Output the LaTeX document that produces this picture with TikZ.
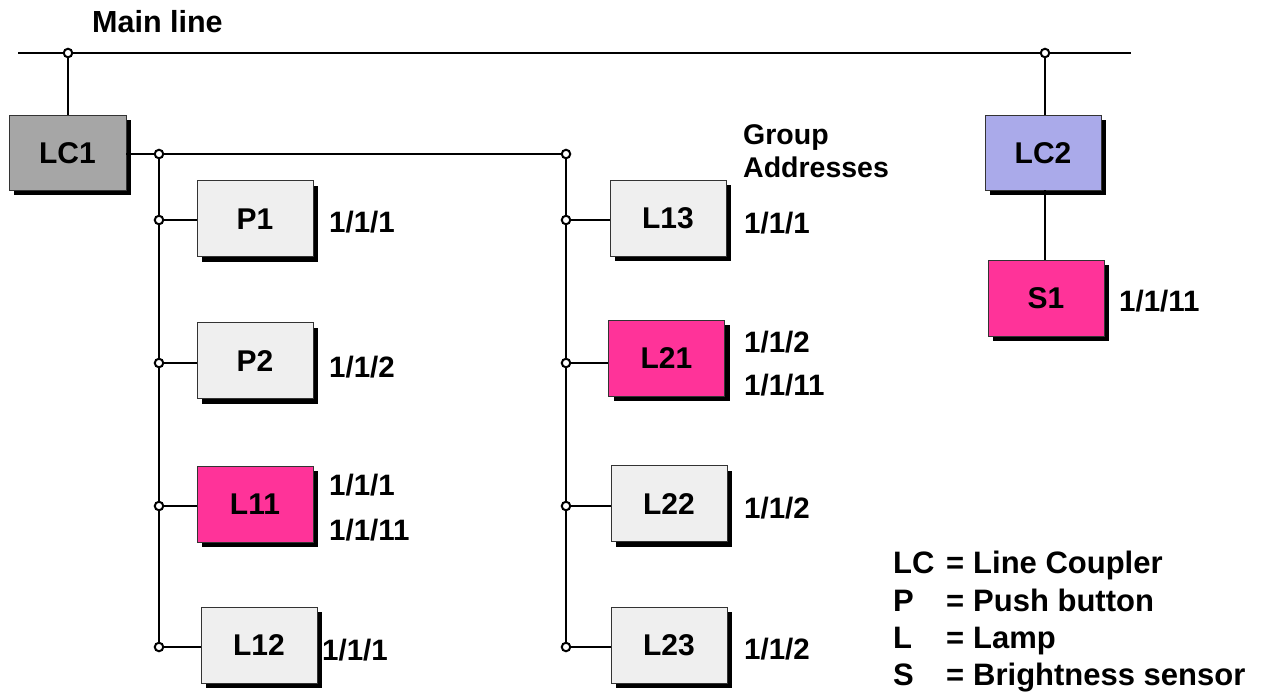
\documentclass[tikz,border=0pt]{standalone}
\usepackage{fontspec}
\setmainfont{Liberation Sans}
\usetikzlibrary{shadows}
\definecolor{lcgray}{HTML}{A6A6A6}
\definecolor{boxlight}{HTML}{EFEFEF}
\definecolor{pinkbox}{HTML}{FF3399}
\definecolor{lavbox}{HTML}{AAAAEA}
\definecolor{edgegray}{HTML}{333333}
\tikzset{
  dev/.style={draw=edgegray, line width=0.9pt, minimum width=116pt, minimum height=76pt,
    inner sep=0pt, text height=21pt, text depth=0pt,
    font=\fontsize{30}{36}\selectfont\bfseries,
    drop shadow={shadow xshift=5pt, shadow yshift=-5pt, opacity=1, fill=black}},
  wire/.style={line width=2.6pt, black},
  junc/.style={circle, draw=black, fill=white, line width=2pt, minimum size=8.5pt, inner sep=0pt},
  lbl/.style={anchor=base west, inner sep=0pt, font=\fontsize{29.5}{35}\selectfont\bfseries},
  hdr/.style={anchor=base west, inner sep=0pt, font=\fontsize{28.5}{34}\selectfont\bfseries},
  leg/.style={anchor=base west, inner sep=0pt, font=\fontsize{31}{37}\selectfont\bfseries}
}
\begin{document}
\begin{tikzpicture}[x=1pt,y=-1pt]
\useasboundingbox (0,0) rectangle (1264,691);
% main line
\coordinate (mlL) at (18,53);
\coordinate (mlR) at (1131,53);
\draw[wire] (mlL) -- (mlR);
\node[lbl, font=\fontsize{30.5}{36}\selectfont\bfseries] (mainlbl) at (92,32) {Main line};
% boxes
\node[dev, fill=lcgray, minimum width=117pt, minimum height=75pt] (LC1) at (67.5,152.5) {LC1};
\node[dev, fill=boxlight] (P1) at (255,218.5) {P1};
\node[dev, fill=boxlight] (P2) at (255,360.5) {P2};
\node[dev, fill=pinkbox] (L11) at (255,504) {L11};
\node[dev, fill=boxlight] (L12) at (259,645) {L12};
\node[dev, fill=boxlight] (L13) at (668,218) {L13};
\node[dev, fill=pinkbox] (L21) at (666.5,358) {L21};
\node[dev, fill=boxlight] (L22) at (669,503.5) {L22};
\node[dev, fill=boxlight] (L23) at (669,645) {L23};
\node[dev, fill=lavbox, minimum height=75pt] (LC2) at (1043,152.5) {LC2};
\node[dev, fill=pinkbox] (S1) at (1046,298) {S1};
% junction coordinates
\coordinate (jm1) at (68,53);
\coordinate (jm2) at (1045,53);
\coordinate (ja) at (159,154);
\coordinate (jb) at (566,154);
\coordinate (jP1) at (159,220);
\coordinate (jP2) at (159,363);
\coordinate (jL11) at (159,506);
\coordinate (jL12) at (159,647);
\coordinate (jL13) at (566,220);
\coordinate (jL21) at (566,363);
\coordinate (jL22) at (566,506);
\coordinate (jL23) at (566,647);
% wires
\draw[wire] (jm1) -- (jm1 |- LC1.north);
\draw[wire] (jm2) -- (jm2 |- LC2.north);
\draw[wire] (LC2.south -| 1045,0) -- (S1.north -| 1045,0);
\draw[wire] (LC1.east |- ja) -- (jb);
\draw[wire] (ja) -- (jL12);
\draw[wire] (jb) -- (jL23);
\foreach \j/\b in {jP1/P1, jP2/P2, jL11/L11, jL12/L12, jL13/L13, jL21/L21, jL22/L22, jL23/L23}
  \draw[wire] (\j) -- (\j -| \b.west);
% junction dots
\foreach \j in {jm1, jm2, ja, jb, jP1, jP2, jL11, jL12, jL13, jL21, jL22, jL23}
  \node[junc] at (\j) {};
% group addresses
\node[hdr] (ga1) at (743,144) {Group};
\node[hdr] (ga2) at (743,177) {Addresses};
\node[lbl] (aP1) at (329,232) {1/1/1};
\node[lbl] (aP2) at (329,377) {1/1/2};
\node[lbl] (aL11a) at (329,495) {1/1/1};
\node[lbl] (aL11b) at (329,540) {1/1/11};
\node[lbl] (aL12) at (322,660) {1/1/1};
\node[lbl] (aL13) at (744,233) {1/1/1};
\node[lbl] (aL21a) at (744,352) {1/1/2};
\node[lbl] (aL21b) at (744,395) {1/1/11};
\node[lbl] (aL22) at (744,518) {1/1/2};
\node[lbl] (aL23) at (744,659) {1/1/2};
\node[lbl] (aS1) at (1119,311) {1/1/11};
% legend
\node[leg] (k1) at (893,573) {LC};
\node[leg] (k2) at (893,611) {P};
\node[leg] (k3) at (893,648) {L};
\node[leg] (k4) at (893,685) {S};
\node[leg] (e1) at (946,573) {=};
\node[leg] (e2) at (946,611) {=};
\node[leg] (e3) at (946,648) {=};
\node[leg] (e4) at (946,685) {=};
\node[leg] (d1) at (973,573) {Line Coupler};
\node[leg] (d2) at (973,611) {Push button};
\node[leg] (d3) at (973,648) {Lamp};
\node[leg] (d4) at (973,685) {Brightness sensor};
\end{tikzpicture}
\end{document}
